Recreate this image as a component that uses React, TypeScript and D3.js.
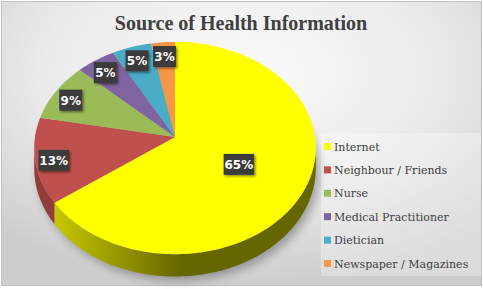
import React from "react";
import * as d3 from "d3";

const categories = ["Internet", "Neighbour / Friends", "Nurse", "Medical Practitioner", "Dietician", "Newspaper / Magazines"];
const values = [65, 13, 9, 5, 5, 3];
const colors = ["#FFFF00", "#C0504D", "#9BBB59", "#8064A2", "#4BACC6", "#F79646"];
const sideColors = ["url(#ySide)", "#933d3b", "#76903f", "#5f4a7c", "#36859a", "#c46f2c"];
const title = "Source of Health Information";

const W = 483, H = 289;
const cx = 175, cy = 137, RX = 140, S = 105, K = 0.104, DEPTH = 20;

function proj(x: number, y: number, z = 0): [number, number] {
  const w = 1 + K * y;
  return [cx + (RX * x) / w, cy - (S * y) / w + (DEPTH * z) / w];
}
const pt = (a: number, f = 1, z = 0) => proj(f * Math.sin(a), f * Math.cos(a), z);

export default function App() {
  const arcs = d3.pie<number>().sort(null).startAngle(0).endAngle(2 * Math.PI)(values);
  let thR = Math.PI / 2, thL = (3 * Math.PI) / 2, maxU = -1e9, minU = 1e9;
  for (let i = 0; i <= 3600; i++) {
    const a = (i / 3600) * 2 * Math.PI;
    const [u] = pt(a);
    if (u > maxU) { maxU = u; thR = a; }
    if (u < minU) { minU = u; thL = a; }
  }
  const line = d3.line();
  const sample = (a0: number, a1: number, z: number) => {
    const n = Math.max(2, Math.ceil(((a1 - a0) * 180) / Math.PI));
    return d3.range(n + 1).map((i) => pt(a0 + ((a1 - a0) * i) / n, 1, z));
  };
  const tops = arcs.map((d) => line([[cx, cy], ...sample(d.startAngle, d.endAngle, 0)])! + "Z");
  const sides = arcs.map((d) => {
    const a0 = Math.max(d.startAngle, thR), a1 = Math.min(d.endAngle, thL);
    if (a1 <= a0) return null;
    const topPts = sample(a0, a1, 0);
    const botPts = sample(a0, a1, 1).reverse();
    return line([...topPts, ...botPts])! + "Z";
  });
  const shadowPath = line([...sample(0, 2 * Math.PI, 1)])! + "Z";
  const maxV = d3.max(values)!;
  const labels = arcs.map((d, i) => {
    const mid = (d.startAngle + d.endAngle) / 2;
    const f = values[i] === maxV ? 0.5 : 0.87;
    const [x, y] = pt(mid, f);
    const txt = Math.round((values[i] / d3.sum(values)) * 100) + "%";
    return { x, y: y + 3, txt };
  });
  const legendY = d3.scalePoint<string>().domain(categories).range([147, 264]);

  return (
    <svg width={W} height={H} style={{ position: "fixed", left: 0, top: 0 }} xmlns="http://www.w3.org/2000/svg">
      <defs>
        <radialGradient id="bg" cx="50%" cy="25%" r="75%">
          <stop offset="0" stopColor="#fbfbfb" />
          <stop offset="0.55" stopColor="#eaeaea" />
          <stop offset="1" stopColor="#cdcdcd" />
        </radialGradient>
        <linearGradient id="ySide" gradientUnits="userSpaceOnUse" x1="45" y1="0" x2="180" y2="0">
          <stop offset="0" stopColor="#cfcf00" />
          <stop offset="1" stopColor="#666600" />
        </linearGradient>
        <filter id="blur" x="-20%" y="-20%" width="140%" height="140%">
          <feGaussianBlur stdDeviation="5" />
        </filter>
        <filter id="lblShadow" x="-30%" y="-30%" width="160%" height="160%">
          <feDropShadow dx="1.5" dy="1.5" stdDeviation="1.2" floodColor="#000" floodOpacity="0.45" />
        </filter>
        <pattern id="dots" width="4" height="4" patternUnits="userSpaceOnUse">
          <rect width="4" height="4" fill="#3a3a3a" />
          <rect x="1" y="1" width="1" height="1" fill="#4a4a4a" />
        </pattern>
      </defs>
      <rect x={0} y={0} width={W} height={H} fill="#ffffff" />
      <rect x={1.5} y={1.5} width={480} height={284} fill="url(#bg)" stroke="#bfbfbf" strokeWidth={1} />
      <text x={241} y={30} textAnchor="middle" fontFamily="'Liberation Serif', serif" fontWeight="bold" fontSize={20} fill="#404040">
        {title}
      </text>
      <path d={shadowPath} fill="#000" opacity={0.3} filter="url(#blur)" transform="translate(4,4)" />
      {sides.map((p, i) => (p ? <path key={"s" + i} d={p} fill={sideColors[i]} /> : null))}
      {tops.map((p, i) => (
        <path key={"t" + i} d={p} fill={colors[i]} />
      ))}
      {labels.map((l, i) => {
        const w = l.txt.length * 7.5 + 8;
        return (
          <g key={"l" + i}>
            <rect x={l.x - w / 2} y={l.y - 10.5} width={w} height={21} fill="url(#dots)" filter="url(#lblShadow)" />
            <text x={l.x} y={l.y + 4.5} textAnchor="middle" fontFamily="'DejaVu Sans', sans-serif" fontWeight="bold" fontSize={12} fill="#ffffff">
              {l.txt}
            </text>
          </g>
        );
      })}
      <rect x={321} y={133} width={160} height={143} fill="#ffffff" opacity={0.3} />
      {categories.map((c, i) => (
        <g key={"g" + i}>
          <rect x={324} y={legendY(c)! - 4} width={7} height={7} fill={colors[i]} />
          <text x={334} y={legendY(c)! + 3.5} fontFamily="'DejaVu Serif', serif" fontSize={11} fill="#404040">
            {c}
          </text>
        </g>
      ))}
    </svg>
  );
}
